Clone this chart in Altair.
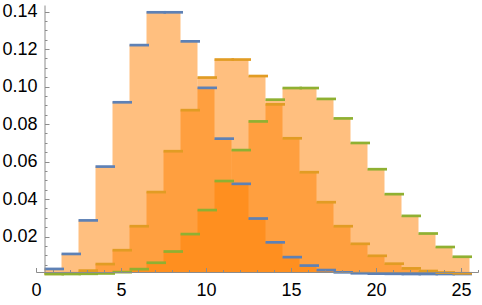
import altair as alt
import pandas as pd

# ---- data ----
k = list(range(1, 26))
blue = [0.0027, 0.0107, 0.0286, 0.0573, 0.0916, 0.1221, 0.1396, 0.1396, 0.1241, 0.0993,
        0.0722, 0.0481, 0.0296, 0.0169, 0.0090, 0.0045, 0.0021, 0.0009, 0.0004, 0.0002,
        0.0001, 0.0000, 0.0000, 0.0000, 0.0000]
orange = [0.0001, 0.0004, 0.0018, 0.0053, 0.0127, 0.0255, 0.0437, 0.0655, 0.0874, 0.1048,
          0.1144, 0.1144, 0.1056, 0.0905, 0.0724, 0.0543, 0.0383, 0.0255, 0.0161, 0.0097,
          0.0055, 0.0030, 0.0016, 0.0008, 0.0004]
green = [0.0000, 0.0000, 0.0001, 0.0003, 0.0010, 0.0026, 0.0060, 0.0120, 0.0213, 0.0341,
         0.0496, 0.0661, 0.0814, 0.0930, 0.0992, 0.0992, 0.0934, 0.0830, 0.0699, 0.0559,
         0.0426, 0.0310, 0.0216, 0.0144, 0.0092]
series = ["blue", "orange", "green"]
line_colors = ["#5E81B5", "#E19C24", "#8FB032"]
x_label_values = [0, 5, 10, 15, 20, 25]
x_tick_values = list(range(0, 27))
y_label_values = [0.02, 0.04, 0.06, 0.08, 0.10, 0.12, 0.14]
y_tick_values = [round(0.005 * i, 3) for i in range(1, 29)]

AXIS_Y = 0.00107  # vertical axis-origin level (x axis sits slightly above 0)

rows = []
area_rows = []
for name, vals in zip(series, [blue, orange, green]):
    for kk, v in zip(k, vals):
        rows.append({"series": name, "x0": kk - 0.5, "x1": kk + 0.5, "p": v, "base": AXIS_Y})
        area_rows.append({"series": name, "x": kk - 0.5, "p": v, "base": AXIS_Y})
    # closing edge of the last step
    area_rows.append({"series": name, "x": k[-1] + 0.5, "p": vals[-1], "base": AXIS_Y})
df = pd.DataFrame(rows)
adf = pd.DataFrame(area_rows)

AX = "#8c8c8c"
FONT = "Liberation Sans"
xs = alt.Scale(domain=[0, 26], nice=False, zero=False)
ys = alt.Scale(domain=[AXIS_Y, 0.1435], nice=False, zero=False)

base = alt.Chart(df)

fills = alt.Chart(adf).mark_area(color="#FF8000", opacity=0.5, interpolate="step-after").encode(
    x=alt.X("x:Q", scale=xs, axis=alt.Axis(
        orient="bottom", values=x_label_values, ticks=False, domain=False, grid=False,
        labelFontSize=18, labelFont=FONT, labelColor="#000000", labelPadding=9,
        labelFlush=False, labelOverlap=False, title=None)),
    y=alt.Y("p:Q", scale=ys, stack=None, axis=alt.Axis(
        orient="left", values=y_label_values, format=".2f", ticks=False, domain=False,
        grid=False, labelFontSize=18, labelFont=FONT, labelColor="#000000", labelPadding=-1,
        labelFlush=False, labelOverlap=False, title=None)),
    y2="base:Q",
    detail="series:N",
)

x_tick_size = {"condition": {"test": "datum.value % 5 == 0", "value": 4.5}, "value": 2.5}
y_tick_size = {"condition": {"test": "abs(datum.value*50 - round(datum.value*50)) < 0.001", "value": 4.5}, "value": 2.5}

tick_axes = base.mark_rect(opacity=0).encode(
    x=alt.X("x0:Q", scale=xs, axis=alt.Axis(
        orient="top", offset=-267, values=x_tick_values, labels=False, grid=False,
        tickSize=x_tick_size, tickColor=AX, tickWidth=1, domainColor=AX, domainWidth=1,
        title=None, zindex=1)),
    x2="x1:Q",
    y=alt.Y("p:Q", scale=ys, axis=alt.Axis(
        orient="right", offset=-433.5, values=y_tick_values, labels=False, grid=False,
        tickSize=y_tick_size, tickColor=AX, tickWidth=1, domainColor=AX, domainWidth=1,
        title=None, zindex=1)),
    y2="base:Q",
)

lines = base.mark_rule(strokeWidth=2.7, x2Offset=2.5).encode(
    x=alt.X("x0:Q", scale=xs, axis=None),
    x2="x1:Q",
    y=alt.Y("p:Q", scale=ys, axis=None),
    color=alt.Color("series:N", scale=alt.Scale(domain=series, range=line_colors), legend=None),
)

chart = alt.layer(fills, tick_axes, lines).resolve_axis(
    x="independent", y="independent"
).properties(
    width=442, height=267,
    padding={"left": 36, "top": 5, "right": 4, "bottom": 33},
    autosize=alt.AutoSizeParams(type="none"),
).configure_view(stroke=None)

chart.save("out.html", embed_options={"renderer": "svg", "actions": False})
